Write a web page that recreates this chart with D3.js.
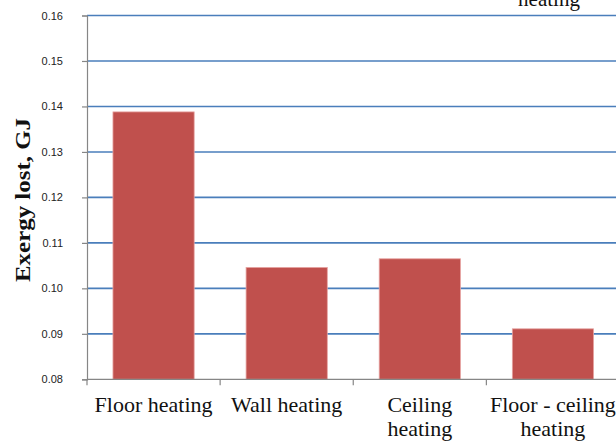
<!DOCTYPE html>
<html>
<head>
<meta charset="utf-8">
<script src="https://cdn.jsdelivr.net/npm/d3@7"></script>
<style>
  html, body { margin: 0; padding: 0; background: #fff; }
  svg { display: block; }
  .serif { font-family: "Liberation Serif", "Times New Roman", "DejaVu Serif", serif; }
  .sans { font-family: "Liberation Sans", Arial, sans-serif; }
</style>
</head>
<body>
<svg id="chart" width="616" height="441"></svg>
<script>
// Heating system categories (each label split into its drawn lines)
const categories = ["Floor heating", "Wall heating", "Ceiling heating", "Floor - ceiling heating"];
const categoryLines = [["Floor heating"], ["Wall heating"], ["Ceiling", "heating"], ["Floor - ceiling", "heating"]];
// Exergy lost per system, GJ
const exergyLost = [0.1388, 0.1046, 0.1065, 0.0911];
// Y axis ticks
const yTicks = [0.08, 0.09, 0.10, 0.11, 0.12, 0.13, 0.14, 0.15, 0.16];

const svg = d3.select("#chart");
const margin = { left: 87, top: 15.5, right: 619.5, bottom: 379.3 };

const x = d3.scaleBand()
  .domain(categories)
  .range([margin.left, margin.right])
  .paddingInner(0.39)
  .paddingOuter(0.195);

const y = d3.scaleLinear()
  .domain([0.08, 0.16])
  .range([margin.bottom, margin.top]);

// horizontal gridlines
svg.append("g")
  .selectAll("line")
  .data(yTicks.slice(1))
  .join("line")
  .attr("x1", margin.left)
  .attr("x2", margin.right)
  .attr("y1", d => y(d))
  .attr("y2", d => y(d))
  .attr("stroke", "#4a7ebb")
  .attr("stroke-width", 1.6);

// bars
svg.append("g")
  .selectAll("rect")
  .data(exergyLost)
  .join("rect")
  .attr("x", (d, i) => x(categories[i]))
  .attr("width", x.bandwidth())
  .attr("y", d => y(d))
  .attr("height", d => y(0.08) - y(d))
  .attr("fill", "#c0504d")
  .attr("stroke", "#e6a3a1")
  .attr("stroke-width", 0.8);

// y axis
const yAxis = svg.append("g")
  .attr("transform", `translate(${margin.left},0)`)
  .call(d3.axisLeft(y).tickValues(yTicks).tickFormat(d3.format(".2f")).tickSize(5).tickPadding(19));
yAxis.attr("font-family", null).attr("font-size", null);
yAxis.select(".domain").attr("stroke", "#868686").attr("stroke-width", 1.2);
yAxis.selectAll(".tick line").attr("stroke", "#868686").attr("stroke-width", 1.2);
yAxis.selectAll(".tick text")
  .attr("class", "sans")
  .style("font-size", "11px")
  .attr("fill", "#222");

// x axis line with boundary ticks
const xAxisG = svg.append("g");
xAxisG.append("line")
  .attr("x1", margin.left).attr("x2", margin.right)
  .attr("y1", y(0.08)).attr("y2", y(0.08))
  .attr("stroke", "#868686").attr("stroke-width", 1.2);
const step = x.step();
const boundaries = categories.map((c, i) => x(c) - x.paddingInner() * step / 2);
xAxisG.selectAll("line.tick")
  .data(boundaries)
  .join("line")
  .attr("class", "tick")
  .attr("x1", d => d).attr("x2", d => d)
  .attr("y1", y(0.08)).attr("y2", y(0.08) + 6)
  .attr("stroke", "#868686").attr("stroke-width", 1.2);

// category labels
const labels = svg.append("g")
  .attr("class", "serif")
  .style("font-size", "22px")
  .attr("fill", "#111")
  .attr("text-anchor", "middle");
categories.forEach((c, i) => {
  const t = labels.append("text")
    .attr("x", x(c) + x.bandwidth() / 2)
    .attr("y", 412);
  categoryLines[i].forEach((line, k) => {
    t.append("tspan")
      .attr("x", x(c) + x.bandwidth() / 2)
      .attr("dy", k === 0 ? 0 : 24)
      .text(line);
  });
});

// y axis title
svg.append("text")
  .attr("class", "serif")
  .attr("transform", "translate(30,200) rotate(-90)")
  .attr("text-anchor", "middle")
  .attr("textLength", 164)
  .attr("lengthAdjust", "spacingAndGlyphs")
  .style("font-weight", "bold")
  .style("font-size", "21px")
  .attr("fill", "#111")
  .text("Exergy lost, GJ");

// label continued from above the plot, clipped by the top edge
svg.append("text")
  .attr("class", "serif")
  .attr("x", 549)
  .attr("y", 6)
  .attr("text-anchor", "middle")
  .style("font-size", "21px")
  .attr("fill", "#111")
  .text("heating");
</script>
</body>
</html>
